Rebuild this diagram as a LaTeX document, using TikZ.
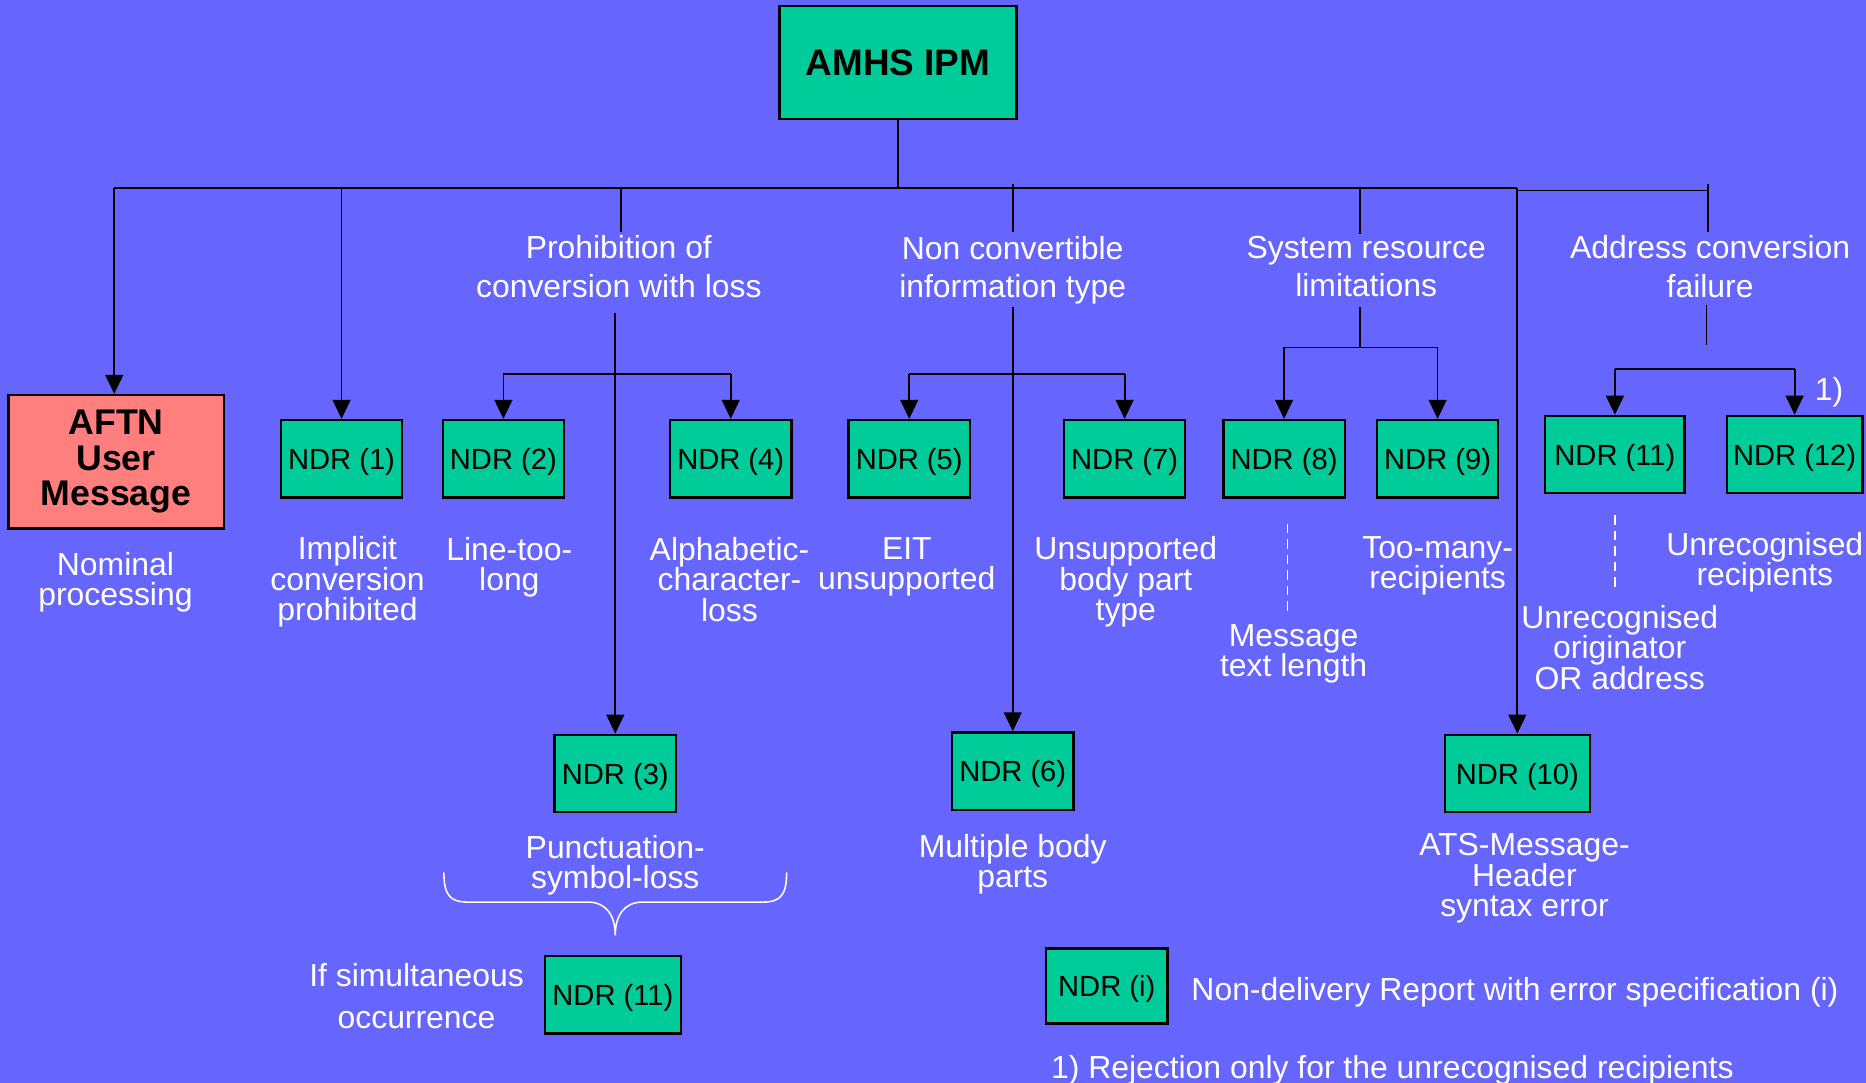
\documentclass[tikz,border=0pt]{standalone}
\usepackage{fontspec}
\setmainfont{Liberation Sans}
\usetikzlibrary{arrows.meta}
\definecolor{bgc}{HTML}{6666FF}
\definecolor{ndrc}{HTML}{00CC99}
\definecolor{aftnc}{HTML}{FF7F7F}
\begin{document}
\begin{tikzpicture}[x=1pt,y=-1pt,
 ndr/.style={draw=black,line width=2pt,fill=ndrc,minimum width=102pt,minimum height=65pt,inner sep=0pt,text height=17.6pt,text depth=0pt,font=\fontsize{24.5}{26}\selectfont},
 lbl/.style={text=white,align=center,font=\fontsize{26.8}{25.5}\selectfont,inner sep=0pt,yshift=-3pt},
 hdr/.style={text=white,align=center,font=\fontsize{26.8}{32}\selectfont,inner sep=0pt},
 conn/.style={line width=1.5pt,draw=black},
 arr/.style={conn,-{Triangle[length=16pt,width=15pt]}},
 wdash/.style={white,line width=1.3pt,dash pattern=on 8pt off 5pt}]
\fill[bgc] (0,0) rectangle (1568,910);
\useasboundingbox (0,0) rectangle (1568,910);

% main boxes
\node[draw=black,line width=2pt,fill=ndrc,minimum width=199pt,minimum height=95pt,inner sep=0pt,font=\fontsize{31}{31}\selectfont\bfseries] (amhs) at (754.5,52.5) {AMHS IPM};
\node[draw=black,line width=2pt,fill=aftnc,minimum width=181pt,minimum height=112pt,inner sep=0pt,align=center,font=\fontsize{30}{30}\selectfont\bfseries] (aftn) at (97.5,388) {AFTN\\User\\Message};

% NDR boxes
\node[ndr] (ndr1) at (287,385.5) {NDR (1)};
\node[ndr] (ndr2) at (423,385.5) {NDR (2)};
\node[ndr] (ndr4) at (614,385.5) {NDR (4)};
\node[ndr] (ndr5) at (764,385.5) {NDR (5)};
\node[ndr] (ndr7) at (945,385.5) {NDR (7)};
\node[ndr] (ndr8) at (1079,385.5) {NDR (8)};
\node[ndr] (ndr9) at (1208,385.5) {NDR (9)};
\node[ndr,minimum width=117pt] (ndr11a) at (1357,382) {NDR (11)};
\node[ndr,minimum width=114pt] (ndr12) at (1508,382) {NDR (12)};
\node[ndr] (ndr3) at (517,650) {NDR (3)};
\node[ndr] (ndr6) at (851,648) {NDR (6)};
\node[ndr,minimum width=122pt] (ndr10) at (1275,650) {NDR (10)};
\node[ndr,minimum width=114pt] (ndr11b) at (515,836) {NDR (11)};
\node[ndr,minimum height=63pt] (ndri) at (930,828.5) {NDR (i)};

% headers
\node[hdr] (hA) at (520,224) {Prohibition of\\conversion with loss};
\node[hdr] (hB) at (851,227) {Non convertible\\information type};
\node[hdr] (hC) at (1148,224) {System resource\\limitations};
\node[hdr] (hD) at (1437,224) {Address conversion\\failure};

% labels
\node[lbl] (lnom) at (97,486) {Nominal\\processing};
\node[lbl] (l1) at (292,486) {Implicit\\conversion\\prohibited};
\node[lbl] (l2) at (428,473.5) {Line-too-\\long};
\node[lbl] (l4) at (613,484) {Alphabetic-\\character-\\loss};
\node[lbl] (l5) at (762,473.5) {EIT\\unsupported};
\node[lbl] (l7) at (946,486) {Unsupported\\body part\\type};
\node[lbl] (l8) at (1087,546.5) {Message\\text length};
\node[lbl] (l9) at (1208,472.5) {Too-many-\\recipients};
\node[lbl] (l12) at (1483,469.5) {Unrecognised\\recipients};
\node[lbl] (l11) at (1361,541) {Unrecognised\\originator\\OR address};
\node[lbl] (l3) at (517,724) {Punctuation-\\symbol-loss};
\node[lbl] (l6) at (851,723) {Multiple body\\parts};
\node[lbl] (l10) at (1281,735) {ATS-Message-\\Header\\syntax error};
\node[lbl,yshift=3pt,font=\fontsize{26.8}{36}\selectfont] (lsim) at (350,837) {If simultaneous\\occurrence};
\node[lbl,anchor=west] (leg) at (1001,831) {Non-delivery Report with error specification (i)};
\node[lbl,anchor=west] (foot) at (883,896) {1) Rejection only for the unrecognised recipients};
\node[lbl] (one) at (1537,327) {1)};

% bus coordinates
\coordinate (b0) at (96,158);
\coordinate (b1) at (287,158);
\coordinate (b2) at (522,158);
\coordinate (b3) at (851,155);
\coordinate (b4) at (1143,158);
\coordinate (b5) at (1275,158);
\coordinate (b5b) at (1275,160);
\coordinate (b6) at (1435,160);
\coordinate (b6t) at (1435,155);

\draw[conn] (amhs.south) -- (amhs.south |- b0);
\draw[conn] (b0) -- (b5);
\draw[conn] (b5b) -- (b6);
\draw[arr] (b0) -- (b0 |- aftn.north);
\draw[arr] (b1) -- (ndr1.north);
\draw[conn] (b2) -- (522,195);
\draw[conn] (b3) -- (851,195);
\draw[conn] (b4) -- (1143,197);
\draw[arr] (b5) -- (ndr10.north);
\draw[conn] (b6t) -- (1435,195);

% Prohibition branch
\coordinate (pA) at (517,263);
\coordinate (pAj) at (517,314);
\draw[arr] (pA) -- (ndr3.north);
\draw[conn] (ndr2.north |- pAj) -- (ndr4.north |- pAj);
\draw[arr] (ndr2.north |- pAj) -- (ndr2.north);
\draw[arr] (ndr4.north |- pAj) -- (ndr4.north);

% Non convertible branch
\coordinate (pB) at (851,258);
\coordinate (pBj) at (851,314);
\draw[arr] (pB) -- (ndr6.north);
\draw[conn] (ndr5.north |- pBj) -- (ndr7.north |- pBj);
\draw[arr] (ndr5.north |- pBj) -- (ndr5.north);
\draw[arr] (ndr7.north |- pBj) -- (ndr7.north);

% System resource branch
\coordinate (pC) at (1143,258);
\coordinate (pCj) at (1143,292);
\draw[conn] (pC) -- (pCj);
\draw[conn] (ndr8.north |- pCj) -- (ndr9.north |- pCj);
\draw[arr] (ndr8.north |- pCj) -- (ndr8.north);
\draw[arr] (ndr9.north |- pCj) -- (ndr9.north);

% Address branch
\coordinate (pD) at (1434,256);
\coordinate (pDe) at (1434,290);
\coordinate (pDj) at (1434,310);
\draw[conn] (pD) -- (pDe);
\draw[conn] (ndr11a.north |- pDj) -- (ndr12.north |- pDj);
\draw[arr] (ndr11a.north |- pDj) -- (ndr11a.north);
\draw[arr] (ndr12.north |- pDj) -- (ndr12.north);

% dashed white separators
\draw[wdash] (1082,440) -- (1082,513);
\draw[wdash] (1357,433) -- (1357,493);

% brace
\draw[white,line width=1.3pt] (373,733) .. controls (373,752) and (378,758) .. (393,758) -- (494,758) .. controls (510,758) and (517,770) .. (517,786) .. controls (517,770) and (524,758) .. (540,758) -- (641,758) .. controls (656,758) and (661,752) .. (661,733);
\end{tikzpicture}
\end{document}
